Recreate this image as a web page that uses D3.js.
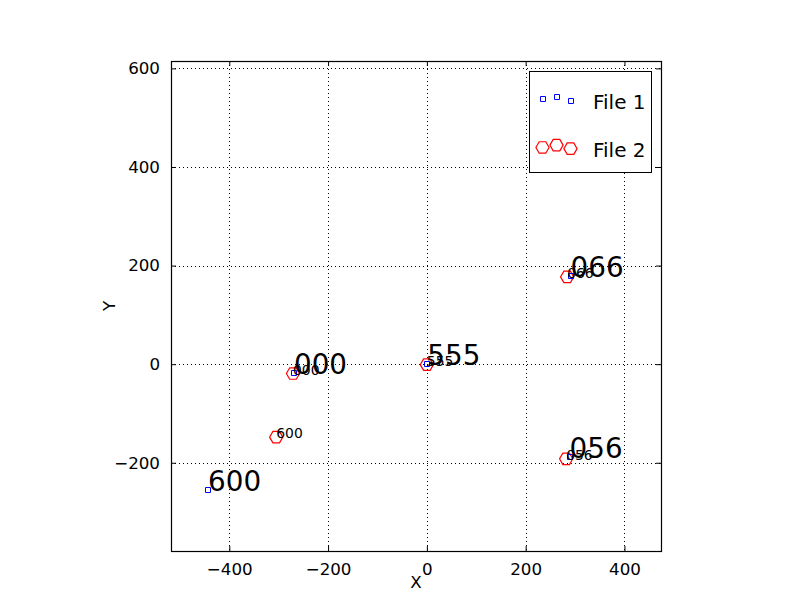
<!DOCTYPE html>
<html>
<head>
<meta charset="utf-8">
<script src="https://cdn.jsdelivr.net/npm/d3@7"></script>
<style>
  body { margin: 0; background: #fff; }
  text { font-family: "DejaVu Sans", sans-serif; }
</style>
</head>
<body>
<div class="canvas"></div>
<script>
// data
const names = ['600', '000', '555', '066', '056'];
const file1X = [-443, -269, 1, 291, 289];
const file1Y = [-256, -17, 1, 179, -189];
const file2X = [-305, -271, 0, 284, 282];
const file2Y = [-148, -19, -1, 177, -192];
const seriesNames = ['File 1', 'File 2'];
const xTicks = [-400, -200, 0, 200, 400];
const yTicks = [-200, 0, 200, 400, 600];

const dims = { width: 812, height: 612 };
const plot = { left: 171, top: 61, width: 490, height: 490 };

const svg = d3.select('.canvas')
    .append('svg')
    .attr('width', dims.width)
    .attr('height', dims.height);

const x = d3.scaleLinear().domain([-518, 474]).range([plot.left, plot.left + plot.width]);
const y = d3.scaleLinear().domain([-379, 615]).range([plot.top + plot.height, plot.top]);

// snap to pixel centres so 1px lines stay crisp
const px = v => Math.round(v) + 0.5;

// hexagon with flat top/bottom
const hexagon = {
    draw(context, size) {
        const r = Math.sqrt(size);
        for (let i = 0; i < 6; i++) {
            const a = i * Math.PI / 3;
            const hx = r * Math.cos(a), hy = r * Math.sin(a);
            if (i === 0) context.moveTo(hx, hy); else context.lineTo(hx, hy);
        }
        context.closePath();
    }
};
const hexPath = d3.symbol().type(hexagon).size(6.6 * 6.6)();
const sqPath = d3.symbol().type(d3.symbolSquare).size(25)();

// grid
const grid = svg.append('g').attr('stroke', '#000').attr('stroke-width', 1).attr('stroke-dasharray', '1,3');
grid.selectAll('.gx').data(xTicks).enter().append('line')
    .attr('x1', d => px(x(d))).attr('x2', d => px(x(d)))
    .attr('y1', plot.top).attr('y2', plot.top + plot.height);
grid.selectAll('.gy').data(yTicks).enter().append('line')
    .attr('y1', d => px(y(d))).attr('y2', d => px(y(d)))
    .attr('x1', plot.left).attr('x2', plot.left + plot.width);

// axes (ticks inside on all sides)
const tickLen = -5;
const fmt = d => d < 0 ? '\u2212' + Math.abs(d) : String(d);
const axes = [
    { ax: d3.axisBottom(x).tickValues(xTicks).tickFormat(fmt), t: `translate(0, ${plot.top + plot.height})` },
    { ax: d3.axisTop(x).tickValues(xTicks).tickFormat(''), t: `translate(0, ${plot.top})` },
    { ax: d3.axisLeft(y).tickValues(yTicks).tickFormat(fmt), t: `translate(${plot.left}, 0)` },
    { ax: d3.axisRight(y).tickValues(yTicks).tickFormat(''), t: `translate(${plot.left + plot.width}, 0)` }
];
axes.forEach((a, i) => {
    const g = svg.append('g').attr('transform', a.t)
        .call(a.ax.tickSizeInner(tickLen).tickSizeOuter(0).tickPadding(i === 0 ? 12 : 11));
    g.select('.domain').remove();
    g.selectAll('line').attr('stroke', '#000');
    g.selectAll('text').attr('font-size', '16.7px').attr('fill', '#000')
        .style('font-family', '"DejaVu Sans", sans-serif');
});

// frame
svg.append('rect')
    .attr('x', plot.left + 0.5).attr('y', plot.top + 0.5)
    .attr('width', plot.width).attr('height', plot.height)
    .attr('fill', 'none').attr('stroke', '#000').attr('stroke-width', 1.2);

// axis labels
svg.append('text').attr('x', plot.left + plot.width / 2).attr('y', 588)
    .attr('text-anchor', 'middle').attr('font-size', '16.7px').text('X');
svg.append('text').attr('transform', `translate(115, ${plot.top + plot.height / 2}) rotate(-90)`)
    .attr('text-anchor', 'middle').attr('font-size', '16.7px').text('Y');

const file1 = names.map((n, i) => ({ name: n, x: file1X[i], y: file1Y[i] }));
const file2 = names.map((n, i) => ({ name: n, x: file2X[i], y: file2Y[i] }));

// markers
svg.append('g').selectAll('path').data(file2).enter().append('path')
    .attr('d', hexPath)
    .attr('transform', d => `translate(${x(d.x)}, ${y(d.y)})`)
    .attr('fill', 'none').attr('stroke', '#f00').attr('stroke-width', 1.2);
// square edges on half pixels: centre on whole pixels
svg.append('g').selectAll('path').data(file1).enter().append('path')
    .attr('d', sqPath)
    .attr('transform', d => `translate(${Math.round(x(d.x))}, ${Math.round(y(d.y))})`)
    .attr('fill', 'none').attr('stroke', '#00f').attr('stroke-width', 1);

// labels
svg.append('g').selectAll('text').data(file1).enter().append('text')
    .attr('x', d => x(d.x)).attr('y', d => y(d.y) + 1)
    .attr('font-size', '27.8px').text(d => d.name);
svg.append('g').selectAll('text').data(file2).enter().append('text')
    .attr('x', d => x(d.x)).attr('y', d => y(d.y) + 1)
    .attr('font-size', '13.9px').text(d => d.name);

// legend
const legendGroup = svg.append('g');
legendGroup.append('rect')
    .attr('x', 529.5).attr('y', 71.5).attr('width', 122).attr('height', 101)
    .attr('fill', '#fff').attr('stroke', '#000').attr('stroke-width', 1);
const offsets = [0.375, 0.5, 0.3125];
const rows = [{ name: seriesNames[0], path: sqPath, color: '#00f', cy: 99, sq: true },
              { name: seriesNames[1], path: hexPath, color: '#f00', cy: 147, sq: false }];
rows.forEach(r => {
    offsets.forEach((o, j) => {
        let cx = 542.5 + j * 14, cy = r.cy + (0.4 - o) * 19;
        if (r.sq) { cx = Math.round(cx); cy = Math.round(cy); }
        legendGroup.append('path')
            .attr('d', r.path)
            .attr('transform', `translate(${cx}, ${cy})`)
            .attr('fill', 'none').attr('stroke', r.color).attr('stroke-width', r.sq ? 1 : 1.2);
    });
    legendGroup.append('text').attr('x', 593).attr('y', r.cy + 10)
        .attr('font-size', '20px').text(r.name);
});
</script>
</body>
</html>
